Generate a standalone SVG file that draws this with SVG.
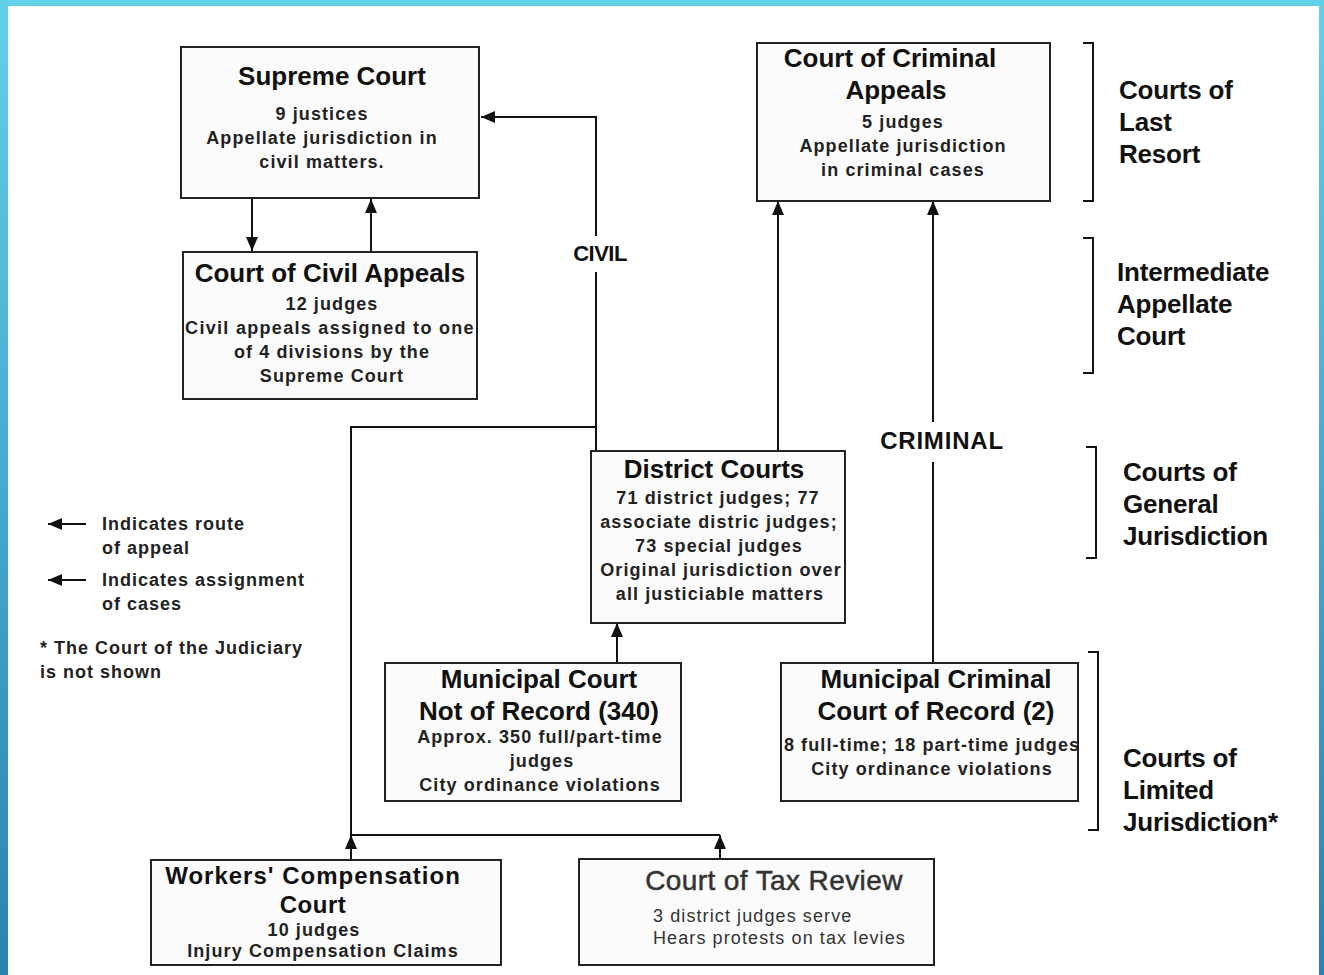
<svg xmlns="http://www.w3.org/2000/svg" width="1324" height="975" viewBox="0 0 1324 975">
<defs>
<linearGradient id="bg" x1="0" y1="0" x2="0" y2="1">
<stop offset="0" stop-color="#63d0ea"/>
<stop offset="1" stop-color="#2a82b0"/>
</linearGradient>
<marker id="ah" markerUnits="userSpaceOnUse" markerWidth="14" markerHeight="12" viewBox="0 0 14 12" refX="14" refY="6" orient="auto">
<path d="M0,0 L14,6 L0,12 z" fill="#111"/>
</marker>
<style>
.box{fill:#fbfbfb;stroke:#222;stroke-width:2}
.ln{fill:none;stroke:#111;stroke-width:2}
.t{font-family:"Liberation Sans",Arial,sans-serif;font-weight:bold;font-size:26px;fill:#111;text-anchor:middle}
.s{font-family:"Liberation Sans",Arial,sans-serif;font-weight:bold;font-size:18px;fill:#222;text-anchor:middle;letter-spacing:1.1px}
.l{font-family:"Liberation Sans",Arial,sans-serif;font-weight:bold;font-size:18px;fill:#222;letter-spacing:1px}
.r{font-family:"Liberation Sans",Arial,sans-serif;font-weight:bold;font-size:26px;fill:#111;letter-spacing:-0.2px}
.g{font-family:"Liberation Sans",Arial,sans-serif;font-size:18px;fill:#333;letter-spacing:1.1px}
.br{fill:none;stroke:#111;stroke-width:2}
</style>
</defs>
<rect x="0" y="0" width="1324" height="975" fill="url(#bg)"/>
<rect x="8" y="6" width="1311" height="969" fill="#fff"/>

<g id="connectors">
<path class="ln" d="M252,199 V251" marker-end="url(#ah)"/>
<path class="ln" d="M371,251 V199" marker-end="url(#ah)"/>
<path class="ln" d="M596,451 V272"/>
<path class="ln" d="M596,236 V117 H481" marker-end="url(#ah)"/>
<path class="ln" d="M596,427 H351 V835 H720"/>
<path class="ln" d="M351,860 V835" marker-end="url(#ah)"/>
<path class="ln" d="M720,859 V835" marker-end="url(#ah)"/>
<path class="ln" d="M778,451 V201" marker-end="url(#ah)"/>
<path class="ln" d="M933,663 V462"/>
<path class="ln" d="M933,422 V201" marker-end="url(#ah)"/>
<path class="ln" d="M617,663 V623" marker-end="url(#ah)"/>
<text class="t" x="600" y="261" style="font-size:22px;letter-spacing:-0.5px">CIVIL</text>
<text class="t" x="942" y="449" style="font-size:24px;letter-spacing:0.8px">CRIMINAL</text>
</g>

<g id="supreme-court">
<rect class="box" x="181" y="47" width="298" height="151"/>
<text class="t" x="332" y="85">Supreme Court</text>
<text class="s" x="322" y="120">9 justices</text>
<text class="s" x="322" y="144">Appellate jurisdiction in</text>
<text class="s" x="322" y="168">civil matters.</text>
</g>

<g id="court-of-civil-appeals">
<rect class="box" x="183" y="252" width="294" height="147"/>
<text class="t" x="330" y="282">Court of Civil Appeals</text>
<text class="s" x="332" y="310">12 judges</text>
<text class="s" x="330" y="334" style="letter-spacing:1.3px">Civil appeals assigned to one</text>
<text class="s" x="332" y="358">of 4 divisions by the</text>
<text class="s" x="332" y="382">Supreme Court</text>
</g>

<g id="court-of-criminal-appeals">
<rect class="box" x="757" y="43" width="293" height="158"/>
<text class="t" x="890" y="67">Court of Criminal</text>
<text class="t" x="896" y="99">Appeals</text>
<text class="s" x="903" y="128">5 judges</text>
<text class="s" x="903" y="152">Appellate jurisdiction</text>
<text class="s" x="903" y="176">in criminal cases</text>
</g>

<g id="district-courts">
<rect class="box" x="591" y="451" width="254" height="172"/>
<text class="t" x="714" y="478">District Courts</text>
<text class="s" x="718" y="504">71 district judges; 77</text>
<text class="s" x="719" y="528">associate distric judges;</text>
<text class="s" x="719" y="552">73 special judges</text>
<text class="s" x="721" y="576">Original jurisdiction over</text>
<text class="s" x="720" y="600">all justiciable matters</text>
</g>

<g id="municipal-court-not-of-record">
<rect class="box" x="385" y="663" width="296" height="138"/>
<text class="t" x="539" y="688">Municipal Court</text>
<text class="t" x="539" y="720">Not of Record (340)</text>
<text class="s" x="540" y="743">Approx. 350 full/part-time</text>
<text class="s" x="542" y="767">judges</text>
<text class="s" x="540" y="791">City ordinance violations</text>
</g>

<g id="municipal-criminal-court-of-record">
<rect class="box" x="781" y="663" width="297" height="138"/>
<text class="t" x="936" y="688">Municipal Criminal</text>
<text class="t" x="936" y="720">Court of Record (2)</text>
<text class="s" x="932" y="751">8 full-time; 18 part-time judges</text>
<text class="s" x="932" y="775">City ordinance violations</text>
</g>

<g id="workers-compensation-court">
<rect class="box" x="151" y="860" width="350" height="105"/>
<text class="t" x="313" y="884" style="font-size:24px;letter-spacing:1px">Workers' Compensation</text>
<text class="t" x="313" y="913" style="font-size:24px;letter-spacing:0.5px">Court</text>
<text class="s" x="314" y="936">10 judges</text>
<text class="s" x="323" y="957">Injury Compensation Claims</text>
</g>

<g id="court-of-tax-review">
<rect class="box" x="579" y="859" width="355" height="106"/>
<text class="t" x="774" y="890" style="font-weight:normal;font-size:28px;letter-spacing:0.4px;fill:#333;stroke:#333;stroke-width:0.5">Court of Tax Review</text>
<text class="g" x="653" y="922">3 district judges serve</text>
<text class="g" x="653" y="944">Hears protests on tax levies</text>
</g>

<g id="legend">
<path class="ln" d="M86,524 H48" marker-end="url(#ah)"/>
<text class="l" x="102" y="530">Indicates route</text>
<text class="l" x="102" y="554">of appeal</text>
<path class="ln" d="M86,580 H48" marker-end="url(#ah)"/>
<text class="l" x="102" y="586">Indicates assignment</text>
<text class="l" x="102" y="610">of cases</text>
<text class="l" x="40" y="654">* The Court of the Judiciary</text>
<text class="l" x="40" y="678">is not shown</text>
</g>

<g id="level-last-resort">
<path class="br" d="M1083,43 H1093 V201 H1083"/>
<text class="r" x="1119" y="99">Courts of</text>
<text class="r" x="1119" y="131">Last</text>
<text class="r" x="1119" y="163">Resort</text>
</g>
<g id="level-intermediate">
<path class="br" d="M1083,238 H1093 V373 H1083"/>
<text class="r" x="1117" y="281">Intermediate</text>
<text class="r" x="1117" y="313">Appellate</text>
<text class="r" x="1117" y="345">Court</text>
</g>
<g id="level-general">
<path class="br" d="M1086,447 H1096 V558 H1086"/>
<text class="r" x="1123" y="481">Courts of</text>
<text class="r" x="1123" y="513">General</text>
<text class="r" x="1123" y="545">Jurisdiction</text>
</g>
<g id="level-limited">
<path class="br" d="M1088,652 H1098 V830 H1088"/>
<text class="r" x="1123" y="767">Courts of</text>
<text class="r" x="1123" y="799">Limited</text>
<text class="r" x="1123" y="831">Jurisdiction*</text>
</g>
</svg>
